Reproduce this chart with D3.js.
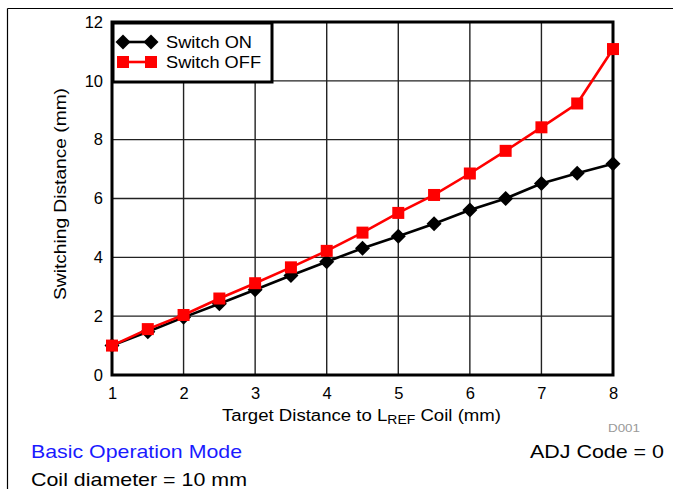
<!DOCTYPE html>
<html><head><meta charset="utf-8">
<script src="https://cdn.jsdelivr.net/npm/d3@7/dist/d3.min.js"></script>
<style>body{margin:0;background:#fff}svg{display:block;font-family:"Liberation Sans",Arial,sans-serif}</style>
</head><body>
<svg id="c" width="673" height="489"></svg>
<script>
const xs = [1,1.5,2,2.5,3,3.5,4,4.5,5,5.5,6,6.5,7,7.5,8];
const switchOn  = [1.0,1.47,1.96,2.42,2.9,3.38,3.85,4.31,4.72,5.14,5.61,6.0,6.51,6.86,7.18];
const switchOff = [1.0,1.56,2.04,2.6,3.12,3.66,4.22,4.84,5.51,6.12,6.85,7.62,8.42,9.23,11.08];
const xTicks = [1,2,3,4,5,6,7,8];
const yTicks = [0,2,4,6,8,10,12];
const seriesNames = ["Switch ON","Switch OFF"];

const svg = d3.select("#c");
const L=112, R=613, T=22, B=375;
const x = d3.scaleLinear().domain([1,8]).range([L,R]);
const y = d3.scaleLinear().domain([0,12]).range([B,T]);

// outer frame
svg.append("line").attr("x1",7.5).attr("x2",673).attr("y1",8.5).attr("y2",8.5).attr("stroke","#000").attr("stroke-width",1.2);
svg.append("line").attr("x1",7.5).attr("x2",7.5).attr("y1",8.5).attr("y2",489).attr("stroke","#000").attr("stroke-width",1.2);

// grid
const g = svg.append("g");
g.selectAll(".vg").data(xTicks).join("line").attr("x1",d=>x(d)).attr("x2",d=>x(d)).attr("y1",T).attr("y2",B).attr("stroke","#222").attr("stroke-width",1.4);
g.selectAll(".hg").data(yTicks).join("line").attr("x1",L).attr("x2",R).attr("y1",d=>y(d)).attr("y2",d=>y(d)).attr("stroke","#222").attr("stroke-width",1.4);

// axes labels
const xAxis = d3.axisBottom(x).tickValues(xTicks).tickSize(0).tickPadding(12).tickFormat(d3.format("d"));
const xa = svg.append("g").attr("transform",`translate(0,${B})`).call(xAxis);
xa.select(".domain").remove();
xa.selectAll("text").attr("font-size",16.5).attr("font-family","Liberation Sans, Arial, sans-serif").attr("fill","#000");
const yAxis = d3.axisLeft(y).tickValues(yTicks).tickSize(0).tickPadding(9).tickFormat(d3.format("d"));
const ya = svg.append("g").attr("transform",`translate(${L},0)`).call(yAxis);
ya.select(".domain").remove();
ya.selectAll("text").attr("font-size",16.5).attr("font-family","Liberation Sans, Arial, sans-serif").attr("fill","#000");

// plot border
svg.append("rect").attr("x",L).attr("y",T).attr("width",R-L).attr("height",B-T).attr("fill","none").attr("stroke","#000").attr("stroke-width",3);

// series
const line = d3.line().x(d=>x(d[0])).y(d=>y(d[1]));
const onData = xs.map((v,i)=>[v,switchOn[i]]);
const offData = xs.map((v,i)=>[v,switchOff[i]]);
const diamond = (sel,cx,cy,r)=>sel.append("path").attr("d",`M${cx},${cy-r}L${cx+r},${cy}L${cx},${cy+r}L${cx-r},${cy}Z`).attr("fill","#000");
svg.append("path").datum(onData).attr("d",line).attr("fill","none").attr("stroke","#000").attr("stroke-width",2.6);
const mg = svg.append("g");
onData.forEach(d=>diamond(mg,x(d[0]),y(d[1]),7.5));
svg.append("path").datum(offData).attr("d",line).attr("fill","none").attr("stroke","#ff0000").attr("stroke-width",2.6);
svg.append("g").selectAll("rect").data(offData).join("rect")
  .attr("x",d=>x(d[0])-6).attr("y",d=>y(d[1])-6).attr("width",12).attr("height",12).attr("fill","#ff0000");

// legend
const lg = svg.append("g");
lg.append("rect").attr("x",113).attr("y",23).attr("width",159).attr("height",59).attr("fill","#fff").attr("stroke","#000").attr("stroke-width",3);
const rows=[42,62];
lg.append("line").attr("x1",123).attr("x2",151).attr("y1",rows[0]).attr("y2",rows[0]).attr("stroke","#000").attr("stroke-width",2.6);
diamond(lg,123,rows[0],7.5); diamond(lg,151,rows[0],7.5);
lg.append("line").attr("x1",123).attr("x2",151).attr("y1",rows[1]).attr("y2",rows[1]).attr("stroke","#ff0000").attr("stroke-width",2.6);
[123,151].forEach(cx=>lg.append("rect").attr("x",cx-6).attr("y",rows[1]-6).attr("width",12).attr("height",12).attr("fill","#ff0000"));
const legW=[86,95];
seriesNames.forEach((n,i)=>lg.append("text").attr("x",166).attr("y",rows[i]+6).attr("font-size",17)
  .attr("textLength",legW[i]).attr("lengthAdjust","spacingAndGlyphs").text(n));

// axis titles
const xt = svg.append("text").attr("x",222).attr("y",421).attr("font-size",16)
  .attr("textLength",279).attr("lengthAdjust","spacingAndGlyphs");
xt.append("tspan").text("Target Distance to L");
xt.append("tspan").attr("font-size",12).attr("dy",3).text("REF");
xt.append("tspan").attr("dy",-3).text(" Coil (mm)");
svg.append("text").attr("transform","translate(66,300) rotate(-90)").attr("font-size",16)
  .attr("textLength",212).attr("lengthAdjust","spacingAndGlyphs").text("Switching Distance (mm)");

// annotations
svg.append("text").attr("x",608).attr("y",432).attr("font-size",11.5).attr("fill","#999")
  .attr("textLength",32).attr("lengthAdjust","spacingAndGlyphs").text("D001");
svg.append("text").attr("x",31).attr("y",458).attr("font-size",19).attr("fill","#1a1aff")
  .attr("textLength",211).attr("lengthAdjust","spacingAndGlyphs").text("Basic Operation Mode");
svg.append("text").attr("x",530).attr("y",458).attr("font-size",19).attr("fill","#000")
  .attr("textLength",134).attr("lengthAdjust","spacingAndGlyphs").text("ADJ Code = 0");
svg.append("text").attr("x",31).attr("y",486).attr("font-size",19).attr("fill","#000")
  .attr("textLength",216).attr("lengthAdjust","spacingAndGlyphs").text("Coil diameter = 10 mm");
</script>
</body></html>
